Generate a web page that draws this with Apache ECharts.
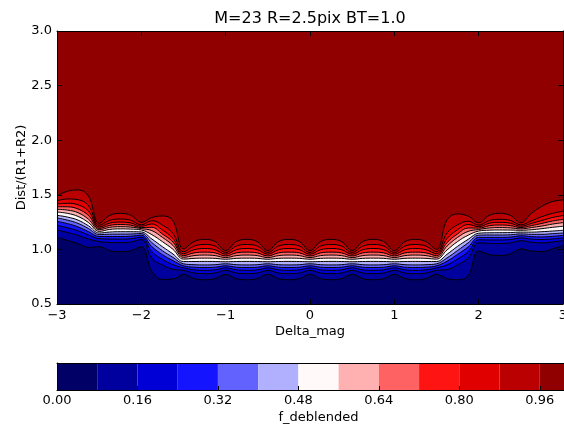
<!DOCTYPE html>
<html><head><meta charset="utf-8">
<script src="https://cdn.jsdelivr.net/npm/echarts@6/dist/echarts.min.js"></script>
<style>html,body{margin:0;padding:0;background:#fff}#c{width:564px;height:426px}</style>
</head><body><div id="c"></div>
<script>
// Delta_mag sample positions
const deltaMag = [-3,-2.875,-2.75,-2.625,-2.5,-2.375,-2.25,-2.125,-2,-1.875,-1.75,-1.625,-1.5,-1.375,-1.25,-1.125,-1,-0.875,-0.75,-0.625,-0.5,-0.375,-0.25,-0.125,0,0.125,0.25,0.375,0.5,0.625,0.75,0.875,1,1.125,1.25,1.375,1.5,1.625,1.75,1.875,2,2.125,2.25,2.375,2.5,2.625,2.75,2.875,3];

// Contour lines: Dist/(R1+R2) at which f_deblended crosses each level
const lev08 = [1.110,1.082,1.052,1.018,1.025,0.989,0.979,0.989,1.025,0.800,0.726,0.729,0.772,0.733,0.722,0.733,0.772,0.733,0.722,0.733,0.772,0.733,0.722,0.733,0.772,0.733,0.722,0.733,0.772,0.733,0.722,0.733,0.772,0.733,0.722,0.733,0.772,0.733,0.722,0.760,0.985,0.953,0.945,0.958,1.005,0.985,0.980,1.005,1.035];
const lev16 = [1.178,1.155,1.128,1.095,1.072,1.064,1.062,1.068,1.090,0.918,0.857,0.818,0.808,0.784,0.778,0.784,0.808,0.784,0.778,0.784,0.808,0.784,0.778,0.784,0.808,0.784,0.778,0.784,0.808,0.784,0.778,0.784,0.808,0.784,0.778,0.784,0.808,0.815,0.860,0.920,1.060,1.056,1.055,1.060,1.080,1.066,1.060,1.068,1.080];
const lev24 = [1.220,1.198,1.170,1.132,1.098,1.095,1.094,1.098,1.112,0.979,0.909,0.860,0.831,0.813,0.808,0.813,0.831,0.813,0.808,0.813,0.831,0.813,0.808,0.813,0.831,0.813,0.808,0.813,0.831,0.813,0.808,0.813,0.831,0.813,0.808,0.813,0.831,0.858,0.912,0.978,1.088,1.086,1.086,1.090,1.105,1.094,1.090,1.096,1.105];
const lev32 = [1.257,1.236,1.206,1.162,1.118,1.118,1.118,1.121,1.130,1.025,0.952,0.897,0.850,0.837,0.834,0.837,0.850,0.837,0.834,0.837,0.850,0.837,0.834,0.837,0.850,0.837,0.834,0.837,0.850,0.837,0.834,0.837,0.850,0.837,0.834,0.837,0.850,0.892,0.955,1.022,1.110,1.110,1.110,1.113,1.125,1.117,1.114,1.120,1.128];
const lev40 = [1.288,1.268,1.238,1.190,1.135,1.139,1.140,1.141,1.145,1.062,0.988,0.927,0.868,0.860,0.858,0.860,0.868,0.860,0.858,0.860,0.868,0.860,0.858,0.860,0.868,0.860,0.858,0.860,0.868,0.860,0.858,0.860,0.868,0.860,0.858,0.860,0.868,0.922,0.990,1.060,1.130,1.132,1.132,1.134,1.142,1.138,1.138,1.144,1.150];
const lev48 = [1.312,1.296,1.268,1.215,1.150,1.159,1.162,1.162,1.160,1.095,1.025,0.958,0.889,0.889,0.890,0.889,0.887,0.889,0.890,0.889,0.887,0.889,0.890,0.889,0.887,0.889,0.890,0.889,0.887,0.889,0.890,0.889,0.887,0.889,0.890,0.889,0.889,0.955,1.028,1.092,1.148,1.152,1.153,1.154,1.158,1.158,1.162,1.168,1.175];
const lev56 = [1.342,1.330,1.302,1.245,1.165,1.183,1.188,1.186,1.178,1.135,1.071,1.001,0.911,0.918,0.920,0.918,0.910,0.918,0.920,0.918,0.910,0.918,0.920,0.918,0.910,0.918,0.920,0.918,0.910,0.918,0.920,0.918,0.910,0.918,0.920,0.918,0.911,0.995,1.072,1.130,1.168,1.176,1.178,1.177,1.175,1.180,1.190,1.202,1.212];
const lev64 = [1.367,1.360,1.336,1.275,1.180,1.202,1.208,1.204,1.190,1.172,1.110,1.037,0.927,0.943,0.948,0.943,0.925,0.943,0.948,0.943,0.925,0.943,0.948,0.943,0.925,0.943,0.948,0.943,0.925,0.943,0.948,0.943,0.925,0.943,0.948,0.943,0.927,1.030,1.110,1.165,1.182,1.196,1.200,1.197,1.188,1.200,1.214,1.232,1.245];
const lev72 = [1.391,1.390,1.370,1.310,1.192,1.220,1.228,1.222,1.200,1.202,1.141,1.068,0.943,0.968,0.975,0.968,0.940,0.968,0.975,0.968,0.940,0.968,0.975,0.968,0.940,0.968,0.975,0.968,0.940,0.968,0.975,0.968,0.940,0.968,0.975,0.968,0.943,1.062,1.142,1.196,1.195,1.217,1.223,1.218,1.200,1.218,1.238,1.260,1.275];
const lev80 = [1.416,1.422,1.408,1.350,1.205,1.241,1.250,1.242,1.212,1.233,1.178,1.101,0.960,0.997,1.008,0.997,0.956,0.997,1.008,0.997,0.956,0.997,1.008,0.997,0.956,0.997,1.008,0.997,0.956,0.997,1.008,0.997,0.956,0.997,1.008,0.997,0.960,1.100,1.180,1.228,1.208,1.240,1.248,1.240,1.212,1.238,1.265,1.292,1.310];
const lev88 = [1.446,1.462,1.455,1.400,1.220,1.266,1.278,1.267,1.225,1.263,1.223,1.147,0.978,1.030,1.045,1.030,0.972,1.030,1.045,1.030,0.972,1.030,1.045,1.030,0.972,1.030,1.045,1.030,0.972,1.030,1.045,1.030,0.972,1.030,1.045,1.030,0.978,1.150,1.225,1.258,1.222,1.264,1.275,1.265,1.225,1.262,1.300,1.330,1.350];
const lev96 = [1.489,1.533,1.545,1.485,1.240,1.311,1.330,1.313,1.248,1.292,1.306,1.262,1.005,1.071,1.092,1.071,0.990,1.071,1.092,1.071,0.990,1.071,1.092,1.071,0.990,1.071,1.092,1.071,0.990,1.071,1.092,1.071,0.990,1.071,1.092,1.071,1.000,1.270,1.325,1.305,1.245,1.312,1.330,1.312,1.245,1.330,1.395,1.438,1.452];

const contourLevels = [0.08,0.16,0.24,0.32,0.40,0.48,0.56,0.64,0.72,0.80,0.88,0.96];
const contourLines = [lev08,lev16,lev24,lev32,lev40,lev48,lev56,lev64,lev72,lev80,lev88,lev96];
// colour band edges (colorbar) and band colours (seismic)
const bandEdges = [0,0.08,0.16,0.24,0.32,0.40,0.48,0.56,0.64,0.72,0.80,0.88,0.96,1.04];
const bandColors = ['#000066','#00009e','#0000d6','#1414ff','#6262ff','#b0b0ff','#fff9f9','#ffb0b0','#ff6262','#ff1414','#e10000','#ba0000','#910000'];

const FONT = 'DejaVu Sans';
const chart = echarts.init(document.getElementById('c'), null, {renderer: 'canvas'});
const minusFmt = v => (v < 0 ? '\u2212' : '') + Math.abs(v);

const series = [];
for (let k = contourLines.length - 1; k >= 0; k--) {
  series.push({
    type: 'line', xAxisIndex: 0, yAxisIndex: 0,
    data: deltaMag.map((x, i) => [x, contourLines[k][i]]),
    smooth: 0.4, showSymbol: false, symbol: 'none', silent: true,
    lineStyle: {color: '#000', width: 1},
    areaStyle: {color: bandColors[k], opacity: 1, origin: 'start'},
    z: 2
  });
}
for (let b = 0; b < bandColors.length; b++) {
  series.push({
    type: 'bar', xAxisIndex: 2, yAxisIndex: 2, stack: 'cb',
    data: [+(bandEdges[b + 1] - bandEdges[b]).toFixed(4)],
    barWidth: '100%', silent: true,
    itemStyle: {color: bandColors[b]}, z: 2
  });
}

const txt = {fontFamily: FONT, fontSize: 13, color: '#000'};
chart.setOption({
  animation: false,
  backgroundColor: '#fff',
  grid: [
    {left: 57, top: 31, width: 506, height: 273, show: true, backgroundColor: bandColors[12], borderWidth: 0, containLabel: false, outerBoundsMode: 'none'},
    {left: 57, top: 363, width: 523, height: 27, show: false, containLabel: false, outerBoundsMode: 'none'}
  ],
  xAxis: [
    {type: 'value', gridIndex: 0, min: -3, max: 3, interval: 1, position: 'bottom', z: 10,
     axisLine: {show: true, onZero: false, lineStyle: {color: '#000', width: 1}},
     axisTick: {show: true, inside: true, length: 5, lineStyle: {color: '#000'}},
     axisLabel: Object.assign({margin: 5, formatter: minusFmt}, txt),
     splitLine: {show: false},
     name: 'Delta_mag', nameLocation: 'middle', nameGap: 21, nameMoveOverlap: false, nameTextStyle: txt},
    {type: 'value', gridIndex: 0, min: -3, max: 3, interval: 1, position: 'top', z: 10,
     axisLine: {show: true, onZero: false, lineStyle: {color: '#000', width: 1}},
     axisTick: {show: true, inside: true, length: 5, lineStyle: {color: '#000'}},
     axisLabel: {show: false}, splitLine: {show: false},
     name: 'M=23 R=2.5pix BT=1.0', nameLocation: 'middle', nameGap: 4, nameMoveOverlap: false,
     nameTextStyle: {fontFamily: FONT, fontSize: 16, color: '#000'}},
    {type: 'value', gridIndex: 1, min: 0, max: 1.04, interval: 0.16, position: 'bottom', z: 10,
     axisLine: {show: true, onZero: false, lineStyle: {color: '#000', width: 1}},
     axisTick: {show: true, inside: true, length: 4, lineStyle: {color: '#000'}},
     axisLabel: Object.assign({margin: 4, showMaxLabel: false, formatter: v => v.toFixed(2)}, txt),
     splitLine: {show: false},
     name: 'f_deblended', nameLocation: 'middle', nameGap: 21, nameMoveOverlap: false, nameTextStyle: txt},
    {type: 'value', gridIndex: 1, min: 0, max: 1.04, position: 'top', z: 10,
     axisLine: {show: true, onZero: false, lineStyle: {color: '#000', width: 1}},
     axisTick: {show: false}, axisLabel: {show: false}, splitLine: {show: false}}
  ],
  yAxis: [
    {type: 'value', gridIndex: 0, min: 0.5, max: 3.0, interval: 0.5, position: 'left', z: 10,
     axisLine: {show: true, onZero: false, lineStyle: {color: '#000', width: 1}},
     axisTick: {show: true, inside: true, length: 5, lineStyle: {color: '#000'}},
     axisLabel: Object.assign({margin: 5, formatter: v => v.toFixed(1)}, txt),
     splitLine: {show: false},
     name: 'Dist/(R1+R2)', nameLocation: 'middle', nameGap: 29, nameRotate: 90, nameMoveOverlap: false, nameTextStyle: txt},
    {type: 'value', gridIndex: 0, min: 0.5, max: 3.0, interval: 0.5, position: 'right', z: 10,
     axisLine: {show: true, onZero: false, lineStyle: {color: '#000', width: 1}},
     axisTick: {show: true, inside: true, length: 5, lineStyle: {color: '#000'}},
     axisLabel: {show: false}, splitLine: {show: false}},
    {type: 'category', gridIndex: 1, data: ['cb'], position: 'left', z: 10,
     axisLine: {show: true, onZero: false, lineStyle: {color: '#000', width: 1}},
     axisTick: {show: false}, axisLabel: {show: false}, splitLine: {show: false}}
  ],
  series: series
});
</script>
</body></html>
